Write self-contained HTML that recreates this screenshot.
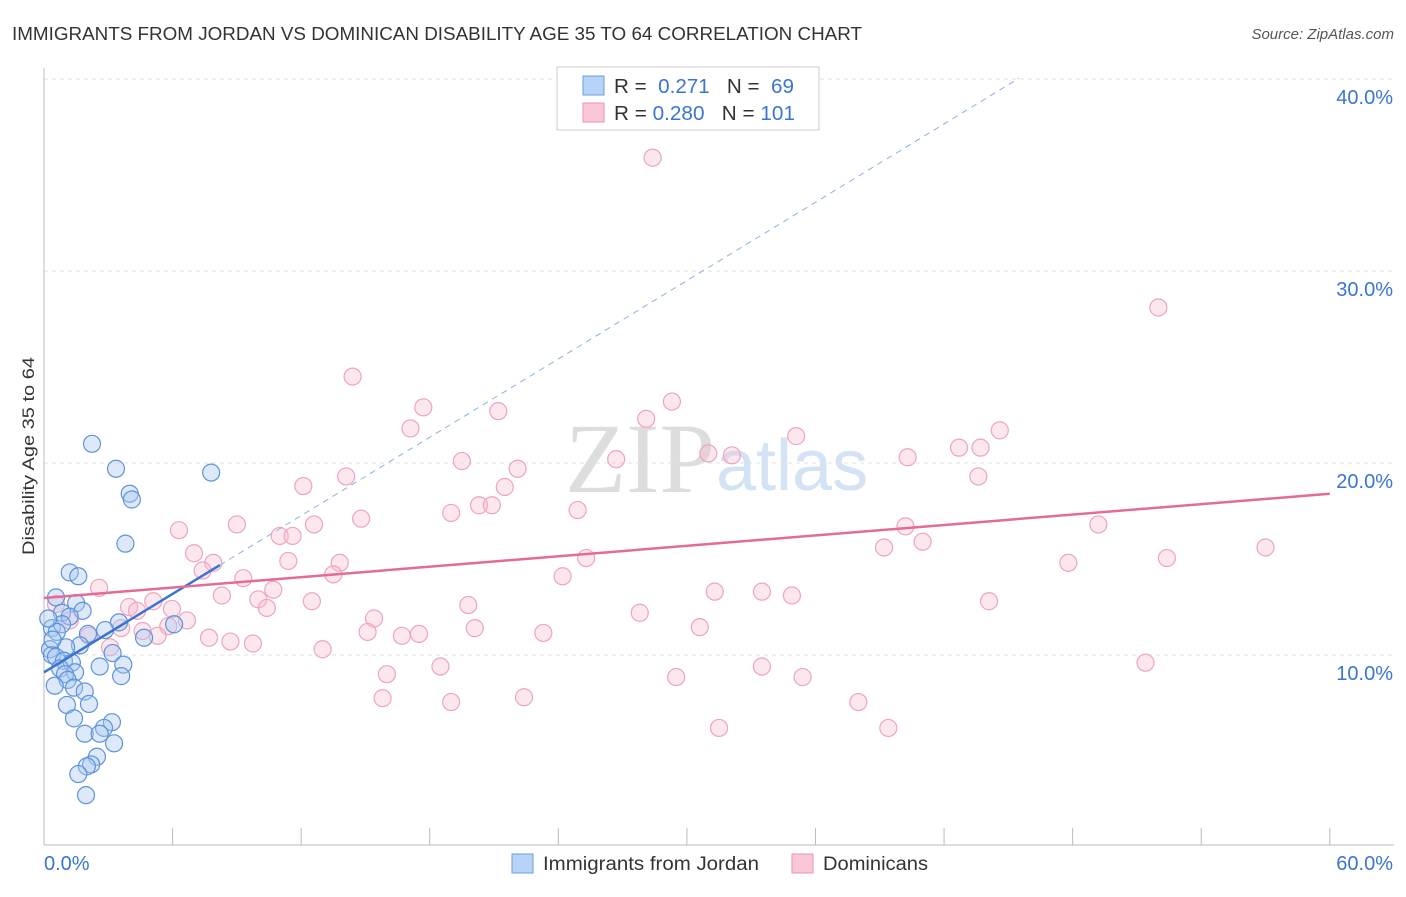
<!DOCTYPE html>
<html><head><meta charset="utf-8"><style>
body{margin:0;background:#fff;font-family:"Liberation Sans",sans-serif;}
</style></head><body>
<svg id="c" width="1406" height="892" xmlns="http://www.w3.org/2000/svg">
<text x="12" y="40" font-size="18" fill="#333" textLength="850" lengthAdjust="spacingAndGlyphs">IMMIGRANTS FROM JORDAN VS DOMINICAN DISABILITY AGE 35 TO 64 CORRELATION CHART</text>
<text x="1394" y="39" font-size="15" fill="#555" text-anchor="end" font-style="italic">Source: ZipAtlas.com</text>
<text x="715" y="492" font-size="100" fill="#ddd" text-anchor="end" font-family="Liberation Serif">ZIP</text>
<text x="716" y="490" font-size="72" fill="#d3e2f4">atlas</text>
<text transform="translate(34,456) rotate(-90)" font-size="17" fill="#333" text-anchor="middle" textLength="198" lengthAdjust="spacingAndGlyphs">Disability Age 35 to 64</text>
<g id="grid"></g><g id="pts"></g><g id="trend"></g>
<g>
<rect x="557" y="67" width="262" height="63" fill="#fff" stroke="#ccc"/>
<rect x="583" y="76" width="21" height="19" fill="#b8d3f5" stroke="#6a9ee0"/>
<rect x="583" y="103" width="21" height="19" fill="#f9c6d5" stroke="#e896b0"/>
<text x="614" y="93" font-size="20" fill="#333" textLength="180" lengthAdjust="spacingAndGlyphs">R = <tspan fill="#3a75d0">&#160;0.271</tspan>&#160;&#160;&#160;N = <tspan fill="#3a75d0">&#160;69</tspan></text>
<text x="614" y="120" font-size="20" fill="#333" textLength="181" lengthAdjust="spacingAndGlyphs">R = <tspan fill="#3a75d0">0.280</tspan>&#160;&#160;&#160;N = <tspan fill="#3a75d0">101</tspan></text>
</g>
<g>
<rect x="512" y="854" width="21" height="19" fill="#b8d3f5" stroke="#6a9ee0"/>
<text x="543" y="870" font-size="19" fill="#333" textLength="216" lengthAdjust="spacingAndGlyphs">Immigrants from Jordan</text>
<rect x="792" y="854" width="21" height="19" fill="#f9c6d5" stroke="#e896b0"/>
<text x="823" y="870" font-size="19" fill="#333" textLength="105" lengthAdjust="spacingAndGlyphs">Dominicans</text>
</g>
</svg>
<script>
const blueX=[2.24,3.36,7.8,4.0,4.1,3.8,1.2,1.6,0.56,1.5,1.8,0.84,1.2,3.5,6.07,0.37,0.84,2.85,0.6,2.05,4.67,1.68,1.03,0.28,0.37,0.56,0.93,1.3,3.2,3.7,2.6,0.75,1.45,0.98,3.6,1.1,0.5,1.4,1.9,1.07,2.1,1.4,3.17,2.8,1.9,2.6,3.27,2.47,2.2,2.0,1.6,1.96,0.4,0.2];
const blueY=[21.0,19.7,19.5,18.4,18.1,15.8,14.3,14.1,13.0,12.7,12.3,12.2,12.0,11.7,11.6,11.4,11.6,11.3,11.2,11.1,10.9,10.5,10.4,10.3,10.0,9.9,9.7,9.6,10.1,9.5,9.4,9.3,9.1,9.0,8.9,8.7,8.4,8.3,8.1,7.4,7.45,6.7,6.5,6.2,5.9,5.9,5.4,4.7,4.3,4.2,3.8,2.7,10.8,11.9];
const pinkX=[28.4,52.0,14.4,17.7,29.3,21.2,28.1,17.1,35.1,44.6,42.7,43.7,31.0,32.1,40.3,19.5,26.7,22.1,14.1,43.6,12.1,21.5,20.3,20.9,19.0,24.9,14.8,9.0,12.6,6.3,40.2,49.2,11.0,11.6,41.0,39.2,57.0,7.0,11.4,13.8,25.3,52.4,47.8,7.9,7.4,13.5,9.3,24.2,2.57,10.7,8.3,31.3,33.5,34.9,10.0,5.1,12.5,44.1,19.8,0.56,3.97,4.34,5.97,10.4,27.8,15.4,6.67,1.2,5.8,3.6,30.6,20.1,15.1,4.6,23.3,16.7,17.5,2.1,5.3,7.7,8.7,9.75,3.08,13.0,51.4,18.5,33.5,16.0,29.5,35.4,15.8,19.0,22.4,38.0,31.5,39.4];
const pinkY=[35.9,28.1,24.5,22.9,23.2,22.7,22.3,21.8,21.4,21.7,20.8,20.8,20.5,20.4,20.3,20.1,20.2,19.7,19.3,19.3,18.8,18.75,17.8,17.8,17.4,17.55,17.1,16.8,16.8,16.5,16.7,16.8,16.2,16.2,15.9,15.6,15.6,15.3,14.9,14.8,15.05,15.05,14.8,14.8,14.4,14.2,14.0,14.1,13.5,13.4,13.1,13.3,13.3,13.1,12.9,12.8,12.8,12.8,12.6,12.65,12.5,12.3,12.4,12.45,12.2,11.9,11.8,11.8,11.5,11.4,11.45,11.4,11.2,11.25,11.15,11.0,11.1,11.0,11.0,10.9,10.7,10.6,10.4,10.3,9.6,9.4,9.4,9.0,8.85,8.85,7.75,7.55,7.8,7.55,6.2,6.2];
const yTicks=[10,20,30,40];
const yTickLabels=["10.0%","20.0%","30.0%","40.0%"];
const xTicks=[0,6,12,18,24,30,36,42,48,54,60];
const blueTrend=[9.1,0.68];
const pinkTrend=[12.97,0.0905];
const NS='http://www.w3.org/2000/svg';
const sx=v=>44+v*21.43, sy=v=>847-v*19.2;
function mk(tag,at,parent){const e=document.createElementNS(NS,tag);for(const k in at)e.setAttribute(k,at[k]);parent.appendChild(e);return e;}
const g=document.getElementById('grid');
yTicks.forEach((t,i)=>{
 const l=mk('line',{x1:44,x2:1394,y1:sy(t),y2:sy(t),stroke:'#e2e2e2','stroke-dasharray':'4,4'},g);
 
 
 const tx=mk('text',{x:1393,y:sy(t)+25,'font-size':20,fill:'#3a75d0','text-anchor':'end'},g);
 tx.textContent=yTickLabels[i];
 
 
});
const ax=mk('line',{x1:44,x2:44,y1:68,y2:845,stroke:'#bbb'},g);


const bx=mk('line',{x1:44,x2:1394,y1:845,y2:845,stroke:'#bbb'},g);


xTicks.forEach(t=>{const l=mk('line',{x1:sx(t),x2:sx(t),y1:828,y2:845,stroke:'#bbb'},g);
 
 });
[['0.0%',44,'start'],['60.0%',1393,'end']].forEach(a=>{const t=mk('text',{x:a[1],y:870,'font-size':20,fill:'#3a75d0','text-anchor':a[2]},g);t.textContent=a[0];
 
 });
const p=document.getElementById('pts');
pinkX.forEach((x,i)=>{const c=mk('circle',{cx:sx(x),cy:sy(pinkY[i]),r:8.5,fill:'rgba(248,185,205,0.35)',stroke:'#eea4bc','stroke-width':1.2},p);
 
 });
blueX.forEach((x,i)=>{const c=mk('circle',{cx:sx(x),cy:sy(blueY[i]),r:8.5,fill:'rgba(170,200,240,0.4)',stroke:'#5d93dc','stroke-width':1.2},p);
 
 });
const tr=document.getElementById('trend');
const bl=a=>blueTrend[0]+blueTrend[1]*a, pl=a=>pinkTrend[0]+pinkTrend[1]*a;
const d=mk('line',{x1:sx(8.2),y1:sy(bl(8.2)),x2:sx(45.5),y2:sy(bl(45.5)),stroke:'#8ab0e6','stroke-dasharray':'6,5','stroke-width':1},tr);


const b=mk('line',{x1:sx(0),y1:sy(bl(0)),x2:sx(8.2),y2:sy(bl(8.2)),stroke:'#3a75d0','stroke-width':2.5},tr);


const pk=mk('line',{x1:sx(0),y1:sy(pl(0)),x2:sx(60),y2:sy(pl(60)),stroke:'#e46b95','stroke-width':2.5},tr);


</script>
</body></html>
